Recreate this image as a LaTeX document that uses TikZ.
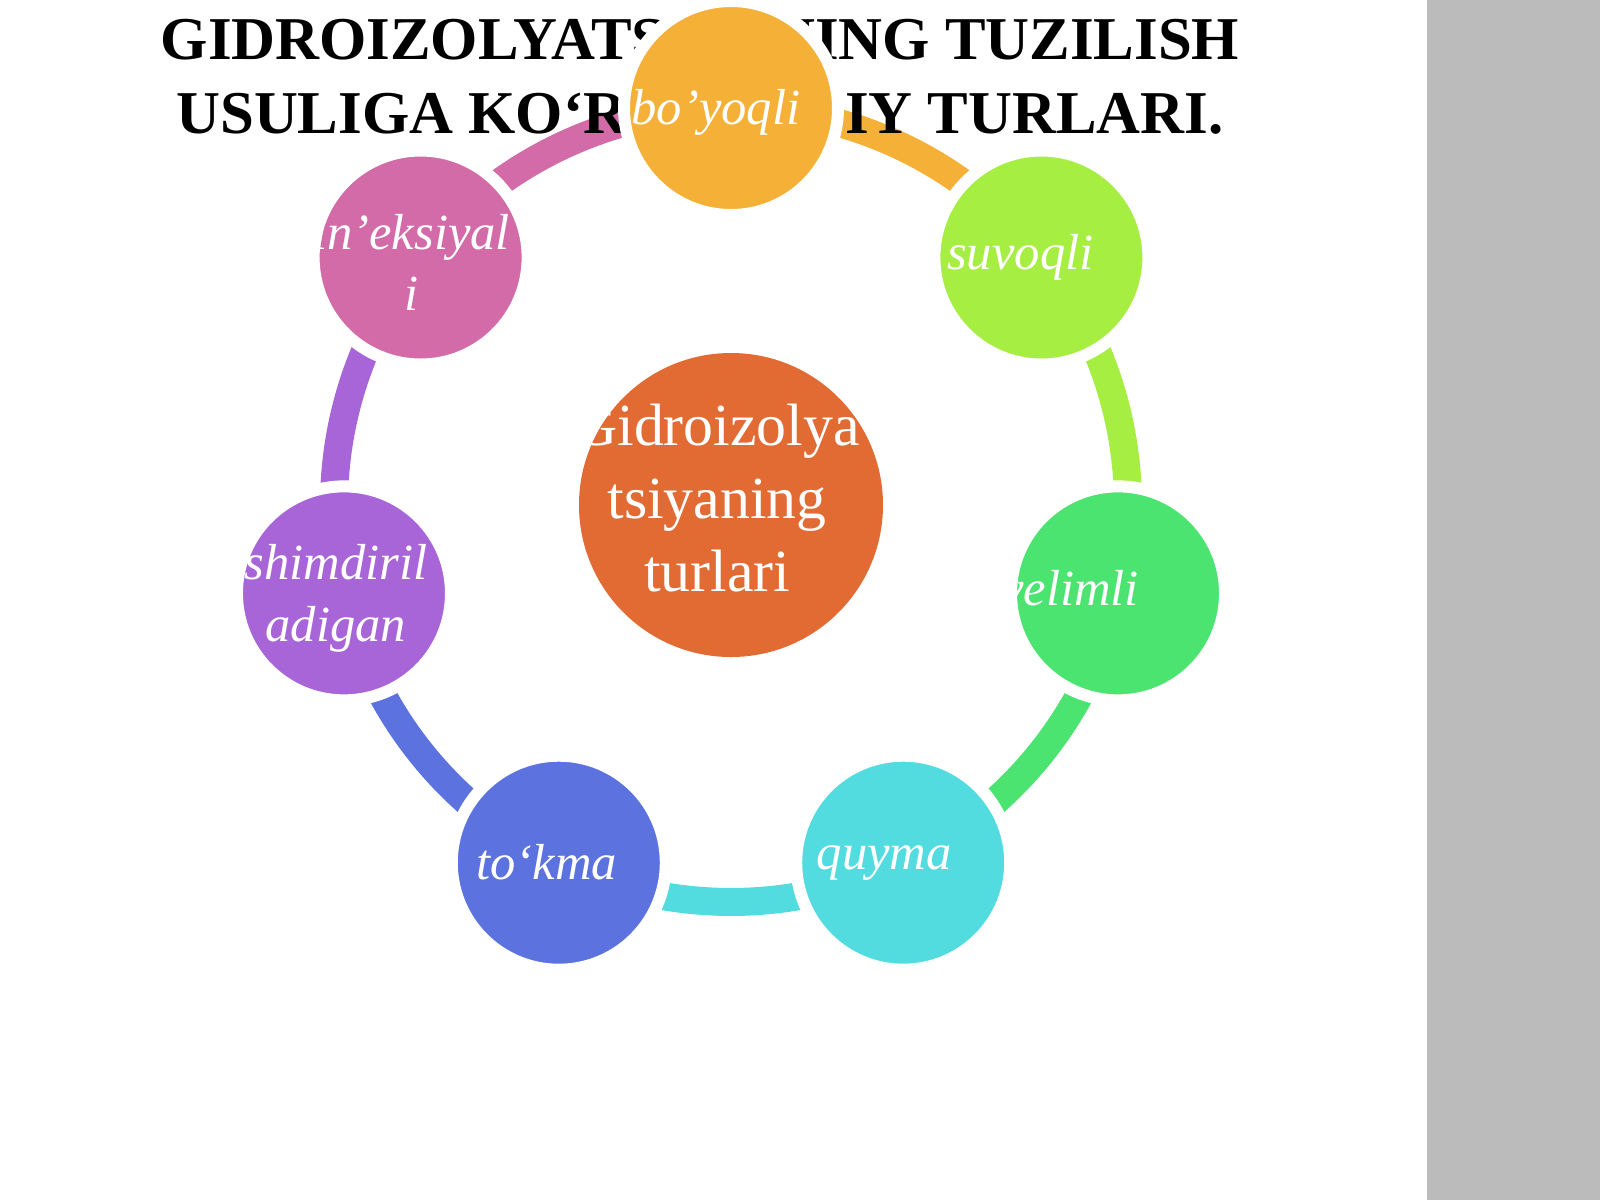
\documentclass[tikz,border=0pt]{standalone}
\usepackage{fontspec}
\setmainfont{Liberation Serif}
\usepackage{tikz}
\usetikzlibrary{backgrounds}
\usepackage{xcolor}

\definecolor{centreC}{RGB}{226,107,52}
\definecolor{boyoqliC}{RGB}{245,176,56}
\definecolor{suvoqliC}{RGB}{166,238,66}
\definecolor{yelimliC}{RGB}{76,228,113}
\definecolor{quymaC}{RGB}{82,220,224}
\definecolor{tokmaC}{RGB}{92,114,222}
\definecolor{shimC}{RGB}{168,101,216}
\definecolor{ineksC}{RGB}{210,107,168}
\definecolor{panelC}{RGB}{186,187,186}

\tikzset{
  ball/.style={circle, fill=#1, draw=white, line width=1.2mm, minimum size=2.14cm, inner sep=0pt},
  ringarc/.style={draw=#1, line width=2.8mm},
  lbl/.style={text=white, font=\fontsize{14.4}{17.5}\selectfont\itshape, align=center}
}

\begin{document}
\begin{tikzpicture}
\useasboundingbox (-7.31,-6.95) rectangle (8.69,5.05);
% title
\node[anchor=north, align=center, inner sep=0pt, font=\fontsize{17.3}{21}\selectfont\bfseries] (title) at (-0.31,4.86) {GIDROIZOLYATSIYANING TUZILISH\\USULIGA KO‘RA ASOSIY TURLARI.};
% centre
\node[circle, fill=centreC, minimum size=3.04cm, inner sep=0pt,
  label={[text=white, align=center, font=\fontsize{17}{20.8}\selectfont, xshift=-1.4mm, yshift=0.7mm]center:Gidroizolya\\tsiyaning\\turlari}] (markaz) at (0,0) {};
% ring of types
\node[ball=boyoqliC, label={[lbl, xshift=-1.5mm, yshift=-0.4mm]center:bo’yoqli}] (boyoqli) at (90:3.97) {};
\node[ball=suvoqliC, label={[lbl, xshift=-2.1mm]center:suvoqli}] (suvoqli) at (38.57:3.97) {};
\node[ball=yelimliC, label={[lbl, xshift=-4.8mm]center:yelimli}] (yelimli) at (-12.86:3.97) {};
\node[ball=quymaC, label={[lbl, xshift=-1.9mm]center:quyma}] (quyma) at (-64.29:3.97) {};
\node[ball=tokmaC, label={[lbl, xshift=-1.2mm]center:to‘kma}] (tokma) at (-115.71:3.97) {};
\node[ball=shimC, label={[lbl, xshift=-0.8mm, yshift=-0.5mm]center:shimdiril\\adigan}] (shimdiril) at (-167.14:3.97) {};
\node[ball=ineksC, label={[lbl, xshift=-0.9mm, yshift=-0.5mm]center:in’eksiyal\\i}] (ineksiyali) at (141.43:3.97) {};

\begin{scope}[on background layer]
\fill[white] (-7.31,-6.95) rectangle (8.69,5.05);
\fill[panelC] (6.96,-6.95) rectangle (8.69,5.05);
\draw[ringarc=boyoqliC] (boyoqli.center) arc[start angle=90, delta angle=-51.43, radius=3.97];
\draw[ringarc=suvoqliC] (suvoqli.center) arc[start angle=38.57, delta angle=-51.43, radius=3.97];
\draw[ringarc=yelimliC] (yelimli.center) arc[start angle=-12.86, delta angle=-51.43, radius=3.97];
\draw[ringarc=quymaC] (quyma.center) arc[start angle=-64.29, delta angle=-51.43, radius=3.97];
\draw[ringarc=tokmaC] (tokma.center) arc[start angle=-115.71, delta angle=-51.43, radius=3.97];
\draw[ringarc=shimC] (shimdiril.center) arc[start angle=-167.14, delta angle=-51.43, radius=3.97];
\draw[ringarc=ineksC] (ineksiyali.center) arc[start angle=141.43, delta angle=-51.43, radius=3.97];
\end{scope}
\end{tikzpicture}
\end{document}
